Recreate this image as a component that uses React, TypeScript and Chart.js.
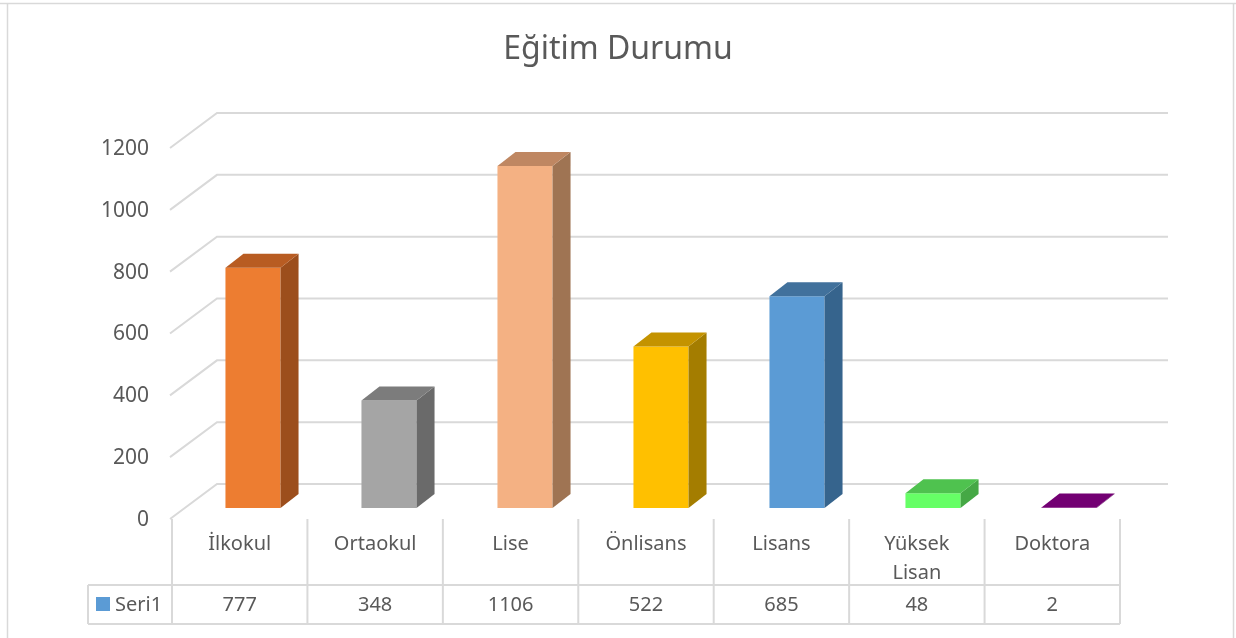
import { useEffect, useRef } from "react";
import { Chart, registerables } from "chart.js";

Chart.register(...registerables);

const chartTitle = "Eğitim Durumu";
const categories = ["İlkokul", "Ortaokul", "Lise", "Önlisans", "Lisans", "Yüksek Lisan", "Doktora"];
const categoryLines = [["İlkokul"], ["Ortaokul"], ["Lise"], ["Önlisans"], ["Lisans"], ["Yüksek", "Lisan"], ["Doktora"]];
const seriesName = "Seri1";
const values = [777, 348, 1106, 522, 685, 48, 2];
const yTicks = [0, 200, 400, 600, 800, 1000, 1200];
const frontColors = ["#ED7D31", "#A5A5A5", "#F4B183", "#FFC000", "#5B9BD5", "#66FF66", "#800080"];
const topColors = ["#B85C22", "#7C7C7C", "#BF8762", "#C49300", "#41719C", "#4FC24F", "#730073"];
const sideColors = ["#9C4E1C", "#6A6A6A", "#9F7453", "#A47D00", "#36648D", "#45A845", "#5A005A"];

const TEXT = "#595959";
const GRID = "#D9D9D9";
const FONT = "'Noto Sans', sans-serif";

export default function App() {
  const ref = useRef<HTMLCanvasElement | null>(null);

  useEffect(() => {
    document.body.style.margin = "0";
    const canvas = ref.current;
    if (!canvas) return;

    const DX = 18, DY = -14; // bar depth
    const FX = -13, FY = 10; // front floor offset from bar plane
    const BX = 32, BY = -24; // back wall offset from bar plane

    const plugin = {
      id: "fake3d",
      beforeDatasetsDraw(chart: any) {
        const ctx = chart.ctx as CanvasRenderingContext2D;
        const area = chart.chartArea;
        const ys = chart.scales.y;
        const W = chart.width;
        ctx.save();
        // frame
        ctx.strokeStyle = GRID;
        ctx.lineWidth = 1.5;
        ctx.beginPath();
        ctx.moveTo(0, 3.5);
        ctx.lineTo(W, 3.5);
        ctx.moveTo(7.5, 4);
        ctx.lineTo(7.5, chart.height);
        ctx.moveTo(1233.5, 4);
        ctx.lineTo(1233.5, chart.height);
        ctx.stroke();

        // title
        ctx.fillStyle = TEXT;
        ctx.font = `32px ${FONT}`;
        ctx.textAlign = "center";
        ctx.textBaseline = "middle";
        ctx.fillText(chartTitle, W / 2, 50);

        // gridlines + tick labels
        ctx.strokeStyle = GRID;
        ctx.lineWidth = 2;
        ctx.font = `21px ${FONT}`;
        ctx.textAlign = "right";
        const backRight = 1168;
        for (const v of yTicks) {
          const y = ys.getPixelForValue(v);
          ctx.beginPath();
          ctx.moveTo(area.left + FX - 2, y + FY + 1);
          ctx.lineTo(area.left + BX, y + BY);
          ctx.lineTo(backRight, y + BY);
          ctx.stroke();
          ctx.fillText(String(v), area.left + FX - 23, y + FY + 2);
        }

        // data table
        const n = categories.length;
        const x0 = area.left + FX;
        const colW = (area.right - area.left - 4) / n;
        const rowTop = ys.getPixelForValue(0) + FY + 1;
        const rowMid = 585;
        const rowBot = 624;
        const hdrLeft = 88;
        ctx.lineWidth = 2;
        ctx.beginPath();
        for (let i = 0; i <= n; i++) {
          const x = x0 + i * colW;
          ctx.moveTo(x, rowTop);
          ctx.lineTo(x, rowBot);
        }
        ctx.moveTo(hdrLeft, rowMid);
        ctx.lineTo(x0 + n * colW, rowMid);
        ctx.moveTo(hdrLeft, rowBot);
        ctx.lineTo(x0 + n * colW, rowBot);
        ctx.moveTo(hdrLeft, rowMid);
        ctx.lineTo(hdrLeft, rowBot);
        ctx.stroke();

        ctx.fillStyle = TEXT;
        ctx.font = `20px ${FONT}`;
        ctx.textAlign = "center";
        for (let i = 0; i < n; i++) {
          const cx = x0 + (i + 0.5) * colW;
          const lines = categoryLines[i];
          lines.forEach((t, k) => ctx.fillText(t, cx, 544 + k * 29));
          ctx.fillText(String(values[i]), cx, 605);
        }
        // legend key
        ctx.fillStyle = "#5B9BD5";
        ctx.fillRect(96, 597, 14, 14);
        ctx.fillStyle = TEXT;
        ctx.textAlign = "left";
        ctx.fillText(seriesName, 115, 605);
        ctx.restore();
      },
      afterDatasetsDraw(chart: any) {
        const ctx = chart.ctx as CanvasRenderingContext2D;
        const meta = chart.getDatasetMeta(0);
        ctx.save();
        meta.data.forEach((bar: any, i: number) => {
          const p = bar.getProps(["x", "y", "base", "width"], true);
          const l = p.x - p.width / 2;
          const r = p.x + p.width / 2;
          const t = p.y;
          const b = p.base;
          // side
          ctx.fillStyle = sideColors[i];
          ctx.beginPath();
          ctx.moveTo(r, t);
          ctx.lineTo(r + DX, t + DY);
          ctx.lineTo(r + DX, b + DY);
          ctx.lineTo(r, b);
          ctx.closePath();
          ctx.fill();
          // top
          ctx.fillStyle = topColors[i];
          ctx.beginPath();
          ctx.moveTo(l, t);
          ctx.lineTo(l + DX, t + DY);
          ctx.lineTo(r + DX, t + DY);
          ctx.lineTo(r, t);
          ctx.closePath();
          ctx.fill();
        });
        ctx.restore();
      },
    };

    const chart = new Chart(canvas, {
      type: "bar",
      data: {
        labels: categories,
        datasets: [
          {
            label: seriesName,
            data: values,
            backgroundColor: frontColors,
            borderWidth: 0,
            categoryPercentage: 1,
            barPercentage: 0.405,
          },
        ],
      },
      options: {
        responsive: false,
        animation: false,
        layout: { padding: { left: 185, right: 99, top: 137, bottom: 130 } },
        scales: {
          x: { display: false },
          y: { display: false, min: 0, max: 1200 },
        },
        plugins: { legend: { display: false }, tooltip: { enabled: false }, title: { display: false } },
      },
      plugins: [plugin],
    });
    return () => chart.destroy();
  }, []);

  return <canvas ref={ref} width={1236} height={638} style={{ display: "block" }} />;
}
